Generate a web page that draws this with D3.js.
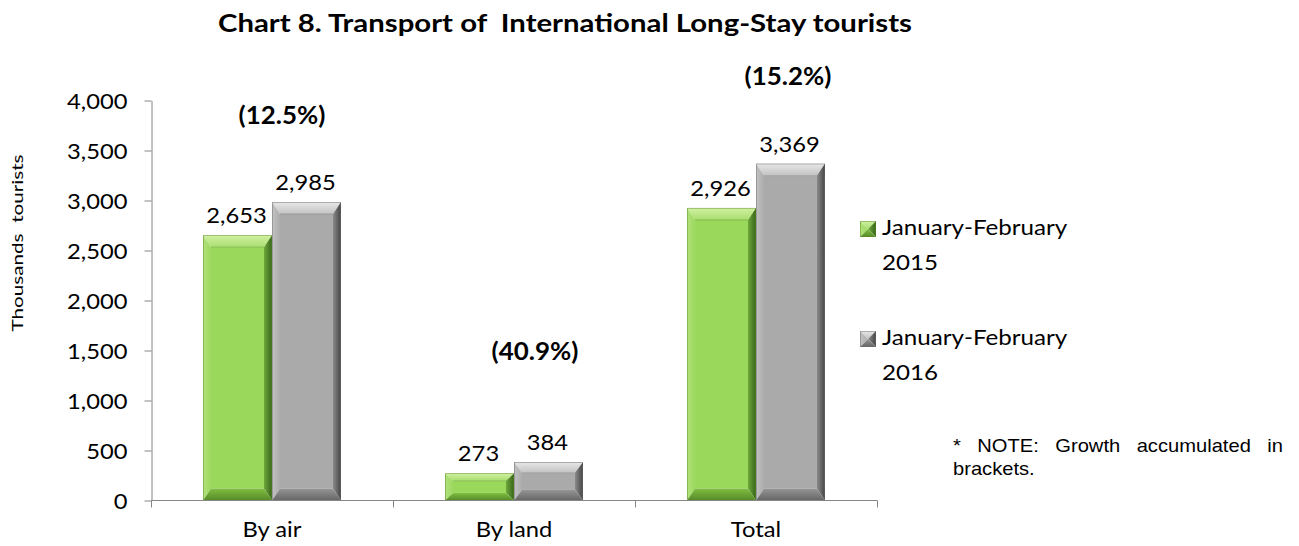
<!DOCTYPE html>
<html>
<head>
<meta charset="utf-8">
<script src="https://cdn.jsdelivr.net/npm/d3@7"></script>
<style>
  html, body { margin: 0; padding: 0; background: #fff; }
  svg { display: block; }
  text { font-family: Lato, "Open Sans", sans-serif; fill: #000; }
</style>
</head>
<body>
<svg id="chart" width="1299" height="546"></svg>
<script>
// ---- data ----
const categories = ["By air", "By land", "Total"];
const seriesNames = ["January-February 2015", "January-February 2016"];
const values2015 = [2653, 273, 2926];
const values2016 = [2985, 384, 3369];
const growthLabels = ["(12.5%)", "(40.9%)", "(15.2%)"];
const yTicks = [0, 500, 1000, 1500, 2000, 2500, 3000, 3500, 4000];

// ---- layout ----
const plot = { left: 151, right: 877, top: 100.5, bottom: 500.5 };
// growth label placement relative to the category centre / 2016 bar top
const growthOffsets = [[10, -78], [21, -102], [32, -79]];
const textStretch = 1.13;

const svg = d3.select("#chart");
const defs = svg.append("defs");

const palettes = [
  { // green
    face: "#9ad85b",
    top: ["#d2f0a2", "#a9de70"],
    left: ["#b2e17c", "#9cd95e"],
    right: ["#6ea83a", "#38641a"],
    bottom: ["#80be42", "#558a27"],
    edge: "#6fa93b",
    stroke: "#5a8a2c"
  },
  { // grey
    face: "#aaaaaa",
    top: ["#e8e8e8", "#c2c2c2"],
    left: ["#c2c2c2", "#acacac"],
    right: ["#8a8a8a", "#454545"],
    bottom: ["#959595", "#666666"],
    edge: "#8a8a8a",
    stroke: "#6a6a6a"
  }
];

function grad(id, c, dir) {
  const g = defs.append("linearGradient").attr("id", id);
  if (dir === "v") g.attr("x1", 0).attr("y1", 0).attr("x2", 0).attr("y2", 1);
  else g.attr("x1", 0).attr("y1", 0).attr("x2", 1).attr("y2", 0);
  g.append("stop").attr("offset", "0%").attr("stop-color", c[0]);
  g.append("stop").attr("offset", "100%").attr("stop-color", c[1]);
}
palettes.forEach((p, i) => {
  grad(`top${i}`, p.top, "v");
  grad(`left${i}`, p.left, "h");
  grad(`right${i}`, p.right, "h");
  grad(`bot${i}`, p.bottom, "v");
});

// bevelled block: four sloped edges around a flat face
function bevel(g, w, h, bx, by, i, innerEdge) {
  const p = palettes[i];
  const pts = a => a.map(d => d.join(",")).join(" ");
  g.append("rect").attr("x", bx).attr("y", by)
    .attr("width", Math.max(0, w - 2 * bx)).attr("height", Math.max(0, h - 2 * by))
    .attr("fill", p.face);
  g.append("polygon").attr("points", pts([[0, 0], [w, 0], [w - bx, by], [bx, by]])).attr("fill", `url(#top${i})`);
  g.append("polygon").attr("points", pts([[0, 0], [bx, by], [bx, h - by], [0, h]])).attr("fill", `url(#left${i})`);
  g.append("polygon").attr("points", pts([[w, 0], [w, h], [w - bx, h - by], [w - bx, by]])).attr("fill", `url(#right${i})`);
  g.append("polygon").attr("points", pts([[0, h], [bx, h - by], [w - bx, h - by], [w, h]])).attr("fill", `url(#bot${i})`);
  if (innerEdge) {
    // soft crease where the top slope meets the face
    g.append("line").attr("x1", bx).attr("x2", w - bx).attr("y1", by).attr("y2", by)
      .attr("stroke", p.edge).attr("stroke-opacity", 0.6).attr("stroke-width", 1);
  }
  g.append("rect").attr("x", 0.4).attr("y", 0.4).attr("width", w - 0.8).attr("height", h - 0.8)
    .attr("fill", "none").attr("stroke", p.stroke).attr("stroke-opacity", 0.6).attr("stroke-width", 0.8);
}

// widen text horizontally by a factor
function stretch(sel, k) {
  sel.each(function () {
    const len = this.getComputedTextLength();
    d3.select(this).attr("textLength", len * k).attr("lengthAdjust", "spacingAndGlyphs");
  });
}

// ---- scales ----
const y = d3.scaleLinear().domain([0, 4000]).range([plot.bottom, plot.top]);
const x0 = d3.scaleBand().domain(categories).range([plot.left, plot.right])
  .paddingInner(0.43).paddingOuter(0.215);
const x1 = d3.scaleBand().domain([0, 1]).range([0, x0.bandwidth()]);

// ---- title ----
svg.append("text")
  .attr("x", 218).attr("y", 32)
  .attr("font-size", 24).attr("font-weight", "bold")
  .style("white-space", "pre")
  .attr("textLength", 694).attr("lengthAdjust", "spacingAndGlyphs")
  .text("Chart 8. Transport of  International Long-Stay tourists");

// ---- y axis ----
const yAxis = svg.append("g")
  .attr("transform", `translate(${plot.left + 0.5},0)`)
  .call(d3.axisLeft(y).tickValues(yTicks).tickFormat(d3.format(",")).tickSize(7).tickSizeOuter(0).tickPadding(17));
yAxis.select(".domain").attr("stroke", "#868686");
yAxis.selectAll(".tick line").attr("stroke", "#868686");
yAxis.selectAll(".tick text").attr("font-size", 21).attr("fill", "#000").attr("dy", "0.36em");
stretch(yAxis.selectAll(".tick text"), textStretch);

svg.append("text")
  .attr("transform", "translate(23,243) rotate(-90)")
  .attr("text-anchor", "middle")
  .attr("font-size", 15)
  .style("white-space", "pre")
  .attr("textLength", 177).attr("lengthAdjust", "spacingAndGlyphs")
  .text("Thousands  tourists");

// ---- bars ----
const series = [values2015, values2016];
const barG = svg.append("g");
categories.forEach((c, ci) => {
  series.forEach((vals, si) => {
    const v = vals[ci];
    const bx0 = x0(c) + x1(si);
    const w = x1.bandwidth();
    const top = y(v);
    const h = y(0) - top;
    const by = Math.min(12, h / 3.6);
    const bxs = Math.min(8, w / 2);
    const g = barG.append("g").attr("transform", `translate(${bx0},${top})`);
    bevel(g, w, h, bxs, by, si, true);
  });
});

// ---- x axis ----
const xAxis = svg.append("g");
xAxis.append("line")
  .attr("x1", plot.left).attr("x2", plot.right + 0.5)
  .attr("y1", y(0)).attr("y2", y(0))
  .attr("stroke", "#868686");
d3.range(categories.length + 1).forEach(i => {
  const xx = plot.left + 0.5 + i * x0.step();
  xAxis.append("line")
    .attr("x1", xx).attr("x2", xx).attr("y1", y(0)).attr("y2", y(0) + 7)
    .attr("stroke", "#868686");
});
const catLabels = xAxis.selectAll("text.cat").data(categories).join("text")
  .attr("class", "cat")
  .attr("x", d => x0(d) + x0.bandwidth() / 2)
  .attr("y", 537)
  .attr("text-anchor", "middle")
  .attr("font-size", 21)
  .text(d => d);
stretch(catLabels, textStretch);

// ---- value labels ----
const labelG = svg.append("g");
categories.forEach((c, ci) => {
  series.forEach((vals, si) => {
    const t = labelG.append("text")
      .attr("x", x0(c) + x1(si) + x1.bandwidth() / 2 - 1)
      .attr("y", y(vals[ci]) - 12)
      .attr("text-anchor", "middle")
      .attr("font-size", 21)
      .text(d3.format(",")(vals[ci]));
    stretch(t, textStretch);
  });
});

// ---- growth labels ----
categories.forEach((c, ci) => {
  const t = labelG.append("text")
    .attr("x", x0(c) + x0.bandwidth() / 2 + growthOffsets[ci][0])
    .attr("y", y(values2016[ci]) + growthOffsets[ci][1])
    .attr("text-anchor", "middle")
    .attr("font-size", 24)
    .attr("font-weight", "bold")
    .text(growthLabels[ci]);
  stretch(t, 1.08);
});

// ---- legend ----
const legend = svg.append("g");
const legendRows = [
  { y: 221, lines: ["January-February", "2015"] },
  { y: 331, lines: ["January-February", "2016"] }
];
legendRows.forEach((r, i) => {
  const g = legend.append("g").attr("transform", `translate(860,${r.y})`);
  bevel(g, 16, 16, 8, 8, i, false);
  r.lines.forEach((ln, li) => {
    const t = legend.append("text")
      .attr("x", 882).attr("y", r.y + 14 + li * 35)
      .attr("font-size", 21)
      .text(ln);
    stretch(t, 1.15);
  });
});

// ---- note (justified first line) ----
const noteFont = "'Liberation Sans', Arial, sans-serif";
const noteWords = ["*", "NOTE:", "Growth", "accumulated", "in"];
const noteLeft = 953, noteRight = 1283, noteK = 1.06;
const noteG = svg.append("g");
const wordNodes = noteWords.map(w => noteG.append("text")
  .attr("y", 452).attr("font-size", 19).style("font-family", noteFont).text(w));
const widths = wordNodes.map(n => n.node().getComputedTextLength() * noteK);
const gap = (noteRight - noteLeft - d3.sum(widths)) / (noteWords.length - 1);
let cx = noteLeft;
wordNodes.forEach((n, i) => {
  n.attr("x", cx).attr("textLength", widths[i]).attr("lengthAdjust", "spacingAndGlyphs");
  cx += widths[i] + gap;
});
const l2 = noteG.append("text")
  .attr("x", noteLeft).attr("y", 475).attr("font-size", 19).style("font-family", noteFont)
  .text("brackets.");
stretch(l2, noteK);
</script>
</body>
</html>
